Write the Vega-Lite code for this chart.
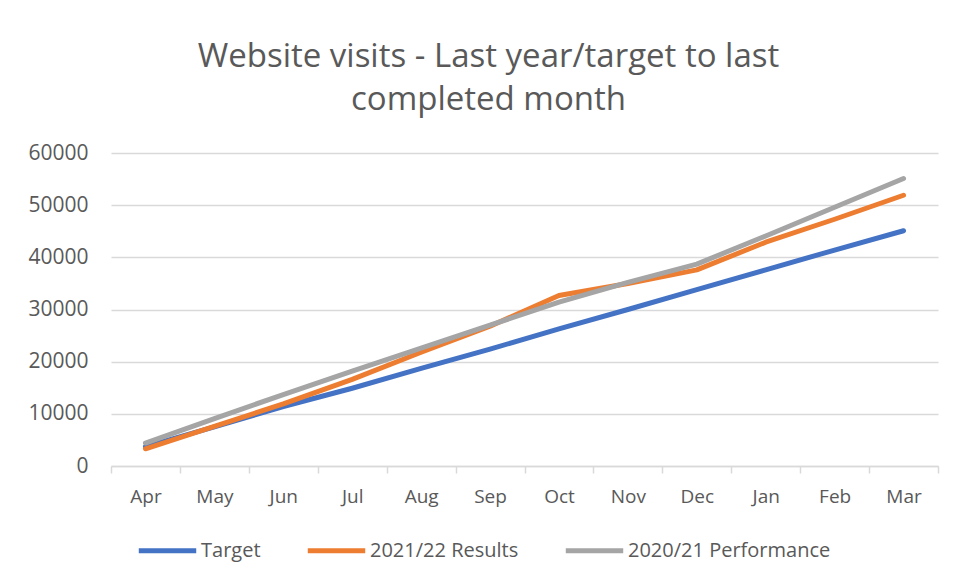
{
  "$schema": "https://vega.github.io/schema/vega-lite/v6.json",
  "autosize": "none",
  "width": 827,
  "height": 313,
  "padding": {"left": 111, "top": 153, "right": 20, "bottom": 119},
  "background": "white",
  "title": {
    "text": ["Website visits - Last year/target to last", "completed month"],
    "font": "Open Sans",
    "fontSize": 33,
    "fontWeight": "normal",
    "color": "#595959",
    "lineHeight": 43,
    "anchor": "middle",
    "dx": -36,
    "offset": 25
  },
  "data": {
    "values": [
      {"month": "Apr", "series": "Target", "value": 3700},
      {"month": "May", "series": "Target", "value": 7500},
      {"month": "Jun", "series": "Target", "value": 11400},
      {"month": "Jul", "series": "Target", "value": 14900},
      {"month": "Aug", "series": "Target", "value": 18700},
      {"month": "Sep", "series": "Target", "value": 22400},
      {"month": "Oct", "series": "Target", "value": 26300},
      {"month": "Nov", "series": "Target", "value": 30000},
      {"month": "Dec", "series": "Target", "value": 33800},
      {"month": "Jan", "series": "Target", "value": 37600},
      {"month": "Feb", "series": "Target", "value": 41400},
      {"month": "Mar", "series": "Target", "value": 45100},
      {"month": "Apr", "series": "2021/22 Results", "value": 3300},
      {"month": "May", "series": "2021/22 Results", "value": 7600},
      {"month": "Jun", "series": "2021/22 Results", "value": 11900},
      {"month": "Jul", "series": "2021/22 Results", "value": 16600},
      {"month": "Aug", "series": "2021/22 Results", "value": 21800},
      {"month": "Sep", "series": "2021/22 Results", "value": 26800},
      {"month": "Oct", "series": "2021/22 Results", "value": 32700},
      {"month": "Nov", "series": "2021/22 Results", "value": 35000},
      {"month": "Dec", "series": "2021/22 Results", "value": 37600},
      {"month": "Jan", "series": "2021/22 Results", "value": 42900},
      {"month": "Feb", "series": "2021/22 Results", "value": 47300},
      {"month": "Mar", "series": "2021/22 Results", "value": 51900},
      {"month": "Apr", "series": "2020/21 Performance", "value": 4400},
      {"month": "May", "series": "2020/21 Performance", "value": 9100},
      {"month": "Jun", "series": "2020/21 Performance", "value": 13700},
      {"month": "Jul", "series": "2020/21 Performance", "value": 18200},
      {"month": "Aug", "series": "2020/21 Performance", "value": 22600},
      {"month": "Sep", "series": "2020/21 Performance", "value": 27000},
      {"month": "Oct", "series": "2020/21 Performance", "value": 31400},
      {"month": "Nov", "series": "2020/21 Performance", "value": 35200},
      {"month": "Dec", "series": "2020/21 Performance", "value": 38700},
      {"month": "Jan", "series": "2020/21 Performance", "value": 44100},
      {"month": "Feb", "series": "2020/21 Performance", "value": 49600},
      {"month": "Mar", "series": "2020/21 Performance", "value": 55100}
    ]
  },
  "mark": {"type": "line", "strokeWidth": 5, "strokeCap": "round", "strokeJoin": "round"},
  "encoding": {
    "x": {
      "field": "month",
      "type": "nominal",
      "sort": ["Apr", "May", "Jun", "Jul", "Aug", "Sep", "Oct", "Nov", "Dec", "Jan", "Feb", "Mar"],
      "scale": {"type": "band", "paddingInner": 0, "paddingOuter": 0},
      "axis": {
        "title": null,
        "labelAngle": 0,
        "tickBand": "extent",
        "ticks": true,
        "tickSize": 7,
        "tickColor": "#D9D9D9",
        "tickWidth": 1.5,
        "domainColor": "#D9D9D9",
        "domainWidth": 1.5,
        "grid": false,
        "labelFont": "Open Sans",
        "labelFontSize": 19,
        "labelColor": "#595959",
        "labelPadding": 14
      }
    },
    "y": {
      "field": "value",
      "type": "quantitative",
      "scale": {"domain": [0, 60000], "nice": false},
      "axis": {
        "title": null,
        "values": [0, 10000, 20000, 30000, 40000, 50000, 60000],
        "format": "d",
        "ticks": false,
        "domain": false,
        "gridColor": "#D9D9D9",
        "gridWidth": 1.5,
        "labelFont": "Open Sans",
        "labelFontSize": 21,
        "labelColor": "#595959",
        "labelPadding": 23
      }
    },
    "color": {
      "field": "series",
      "type": "nominal",
      "sort": ["Target", "2021/22 Results", "2020/21 Performance"],
      "scale": {
        "domain": ["Target", "2021/22 Results", "2020/21 Performance"],
        "range": ["#4472C4", "#ED7D31", "#A5A5A5"]
      },
      "legend": {
        "title": null,
        "orient": "none",
        "direction": "horizontal",
        "legendX": 25,
        "legendY": 366,
        "symbolType": "stroke",
        "symbolStrokeWidth": 5,
        "symbolSize": 3300,
        "labelFont": "Open Sans",
        "labelFontSize": 20,
        "labelColor": "#595959",
        "labelOffset": 2,
        "labelLimit": 400,
        "columnPadding": 36
      }
    }
  },
  "config": {
    "view": {"stroke": null}
  }
}
